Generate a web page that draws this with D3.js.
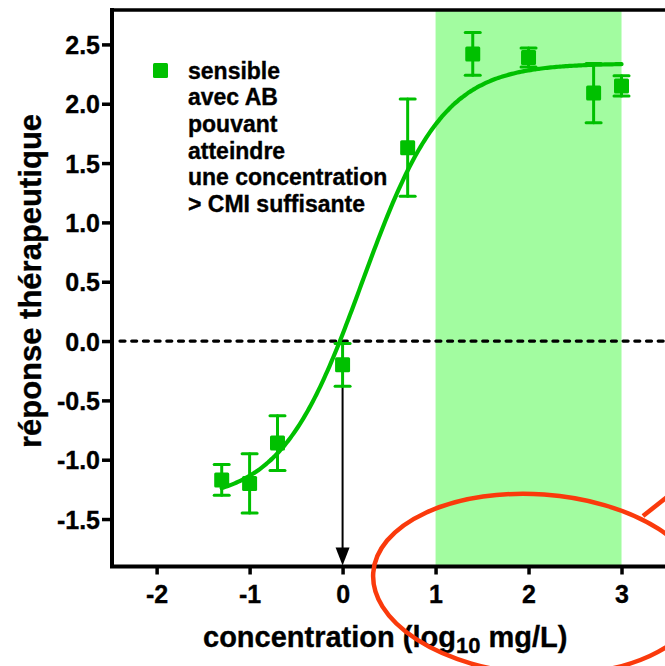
<!DOCTYPE html>
<html>
<head>
<meta charset="utf-8">
<script src="https://cdn.jsdelivr.net/npm/d3@7/dist/d3.min.js"></script>
<style>
  html, body { margin: 0; padding: 0; background: #fff; }
  svg { display: block; }
  text { font-family: "Liberation Sans", Arial, Helvetica, sans-serif; font-weight: bold; fill: #000; stroke: #000; stroke-width: 0.35px; }
</style>
</head>
<body>
<svg id="chart" width="665" height="666"></svg>
<script>
// log10 concentration (mg/L) of each measurement
const concentrations = [-1.3, -1.0, -0.7, 0.0, 0.7, 1.4, 2.0, 2.7, 3.0];
// mean therapeutic response and its error (±)
const responses = [-1.17, -1.20, -0.86, -0.20, 1.63, 2.42, 2.39, 2.09, 2.15];
const errors = [0.13, 0.25, 0.23, 0.18, 0.41, 0.18, 0.08, 0.25, 0.085];
// sigmoidal fit: bottom, top, logEC50, Hill slope
const fitParams = [-1.35, 2.34, 0.21, 1.0];
const fitRange = [-1.3, 3.0];
// therapeutic concentration window (log10 mg/L)
const therapeuticBand = [1, 3];
const xTicks = [-2, -1, 0, 1, 2, 3];
const yTicks = [-1.5, -1.0, -0.5, 0.0, 0.5, 1.0, 1.5, 2.0, 2.5];
const legendLines = ["sensible", "avec AB", "pouvant", "atteindre", "une concentration", "> CMI suffisante"];

const GREEN = "#00c000";
const BAND = "#a2fca0";
const RED = "#fa3a0c";

const svg = d3.select("#chart");

const x = d3.scaleLinear().domain([-2.48, 3.5]).range([112, 668]);
const y = d3.scaleLinear().domain([-1.9, 2.79]).range([566.5, 10]);

// plain hyphen for negative tick labels
const hyphen = f => v => f(v).replace("\u2212", "-");

// shaded therapeutic window
svg.append("rect")
  .attr("x", x(therapeuticBand[0]))
  .attr("y", y.range()[1])
  .attr("width", x(therapeuticBand[1]) - x(therapeuticBand[0]))
  .attr("height", y.range()[0] - y.range()[1])
  .attr("fill", BAND);

// zero response reference line
svg.append("line")
  .attr("x1", x.range()[0] + 8).attr("x2", 665)
  .attr("y1", y(0)).attr("y2", y(0))
  .attr("stroke", "#000").attr("stroke-width", 3.2)
  .attr("stroke-dasharray", "5 6.7").attr("stroke-linecap", "round");

// arrow from the point at 0 down to the axis
const arrowTop = y(responses[3] - errors[3]);
const axisY = y.range()[0];
svg.append("line")
  .attr("x1", x(0)).attr("x2", x(0))
  .attr("y1", arrowTop).attr("y2", axisY - 16)
  .attr("stroke", "#000").attr("stroke-width", 2);
svg.append("path")
  .attr("d", `M${x(0) - 7},${axisY - 19} L${x(0) + 7},${axisY - 19} L${x(0)},${axisY - 1} Z`)
  .attr("fill", "#000");

// fitted dose-response curve
const [fitBottom, fitTop, logEC50, hill] = fitParams;
const model = c => fitBottom + (fitTop - fitBottom) / (1 + Math.pow(10, (logEC50 - c) * hill));
const curvePts = d3.range(fitRange[0], fitRange[1] + 1e-9, 0.02).map(c => [c, model(c)]);
svg.append("path")
  .datum(curvePts)
  .attr("d", d3.line().x(d => x(d[0])).y(d => y(d[1])).curve(d3.curveBasis))
  .attr("fill", "none").attr("stroke", GREEN).attr("stroke-width", 4.2)
  .attr("stroke-linecap", "round");

// error bars and markers
const pts = concentrations.map((c, i) => ({ c, r: responses[i], e: errors[i] }));
const eb = svg.append("g").attr("stroke", GREEN).attr("stroke-width", 3).attr("stroke-linecap", "round");
pts.forEach(p => {
  eb.append("line").attr("x1", x(p.c)).attr("x2", x(p.c)).attr("y1", y(p.r + p.e)).attr("y2", y(p.r - p.e));
  [p.r + p.e, p.r - p.e].forEach(v => {
    eb.append("line").attr("x1", x(p.c) - 7.5).attr("x2", x(p.c) + 7.5).attr("y1", y(v)).attr("y2", y(v));
  });
});
svg.append("g").selectAll("rect").data(pts).join("rect")
  .attr("x", d => x(d.c) - 7.5).attr("y", d => y(d.r) - 7.5)
  .attr("width", 15).attr("height", 15).attr("rx", 1.5)
  .attr("fill", GREEN);

// axes
const yAxis = svg.append("g").attr("transform", `translate(${x.range()[0]},0)`)
  .call(d3.axisLeft(y).tickValues(yTicks).tickFormat(hyphen(d3.format(".1f"))).tickSize(10).tickPadding(2));
const xAxis = svg.append("g").attr("transform", `translate(0,${axisY})`)
  .call(d3.axisBottom(x).tickValues(xTicks).tickFormat(hyphen(d3.format("d"))).tickSize(8).tickPadding(11));
[xAxis, yAxis].forEach(g => {
  g.select(".domain").remove();
  g.selectAll(".tick line").attr("stroke", "#000").attr("stroke-width", 3.5);
  g.selectAll(".tick text").style("font-size", "25px").attr("fill", "#000");
});
yAxis.selectAll(".tick text").attr("dy", "0.36em");

// frame: left, bottom, top
svg.append("path")
  .attr("d", `M${x.range()[0]},${y.range()[1]} L${x.range()[0]},${axisY} L670,${axisY}`)
  .attr("fill", "none").attr("stroke", "#000").attr("stroke-width", 4).attr("stroke-linecap", "square");
svg.append("line")
  .attr("x1", x.range()[0]).attr("x2", 670).attr("y1", y.range()[1]).attr("y2", y.range()[1])
  .attr("stroke", "#000").attr("stroke-width", 3.5);

// legend
svg.append("rect").attr("x", 153).attr("y", 63).attr("width", 15).attr("height", 15).attr("rx", 1.5).attr("fill", GREEN);
const leg = svg.append("text").attr("x", 188).attr("y", 78.5).style("font-size", "23px");
legendLines.forEach((t, i) => {
  leg.append("tspan").attr("x", 188).attr("dy", i === 0 ? 0 : 26.7).text(t);
});

// axis titles
const xt = svg.append("text").attr("x", 203).attr("y", 647).style("font-size", "29px");
xt.append("tspan").text("concentration (log");
xt.append("tspan").attr("dy", 6).style("font-size", "22px").text("10");
xt.append("tspan").attr("dy", -6).text(" mg/L)");

svg.append("text")
  .attr("transform", `translate(41,${281}) rotate(-90)`)
  .attr("text-anchor", "middle").style("font-size", "31px")
  .text("réponse thérapeutique");

// highlighted region annotation
svg.append("ellipse")
  .attr("cx", x(2.1)).attr("cy", y(-2.05)).attr("rx", 165).attr("ry", 90)
  .attr("transform", `rotate(4,${x(2.1)},${y(-2.05)})`)
  .attr("fill", "none").attr("stroke", RED).attr("stroke-width", 4.5);
svg.append("line")
  .attr("x1", 643).attr("y1", 516).attr("x2", 676).attr("y2", 490)
  .attr("stroke", RED).attr("stroke-width", 4.5);
</script>
</body>
</html>
